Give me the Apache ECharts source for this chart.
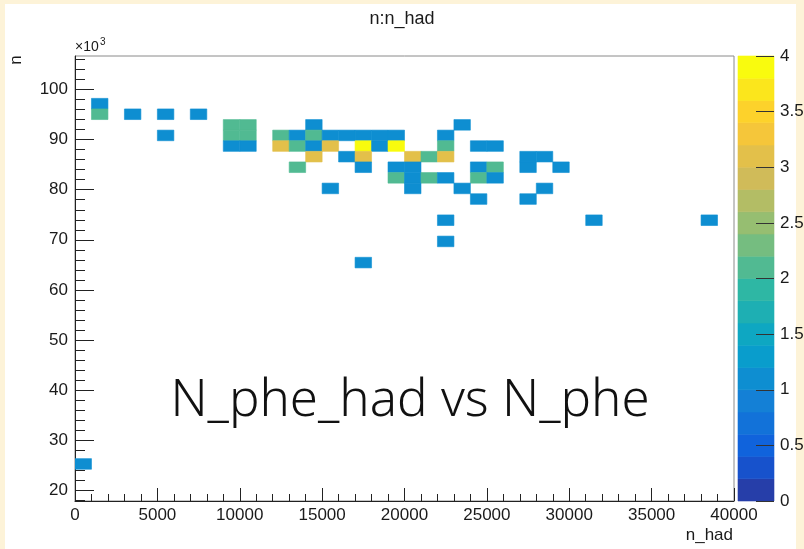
<!DOCTYPE html>
<html>
<head>
<meta charset="utf-8">
<script src="https://cdn.jsdelivr.net/npm/echarts@6/dist/echarts.min.js"></script>
<style>
  html, body { margin: 0; padding: 0; background: #fdf3d8; }
  #paper { position: absolute; left: 5px; top: 4px; width: 791px; height: 545px; background: #ffffff; }
  #chart { position: absolute; left: 0; top: 0; width: 804px; height: 549px; }
</style>
</head>
<body>
<div id="paper"></div>
<div id="chart"></div>
<script>
// Filled cells of the n : n_had histogram (bin centres and entries)
const nHad = [
  1500,
  1500, 3500, 5500, 7500,
  9500, 10500, 14500, 23500,
  5500, 9500, 10500, 12500, 13500, 14500, 15500, 16500, 17500, 18500, 19500, 22500,
  9500, 10500, 12500, 13500, 14500, 15500, 17500, 18500, 19500, 22500, 24500, 25500,
  14500, 16500, 17500, 20500, 21500, 22500, 27500, 28500,
  13500, 17500, 19500, 20500, 24500, 25500, 27500, 29500,
  19500, 20500, 21500, 22500, 24500, 25500,
  15500, 20500, 23500, 28500,
  24500, 27500,
  22500, 31500, 38500,
  22500,
  17500,
  500
];
const nVal = [
  97180,
  95070, 95070, 95070, 95070,
  92950, 92950, 92950, 92950,
  90840, 90840, 90840, 90840, 90840, 90840, 90840, 90840, 90840, 90840, 90840, 90840,
  88720, 88720, 88720, 88720, 88720, 88720, 88720, 88720, 88720, 88720, 88720, 88720,
  86600, 86600, 86600, 86600, 86600, 86600, 86600, 86600,
  84490, 84490, 84490, 84490, 84490, 84490, 84490, 84490,
  82370, 82370, 82370, 82370, 82370, 82370,
  80260, 80260, 80260, 80260,
  78140, 78140,
  73910, 73910, 73910,
  69680,
  65450,
  25250
];
const counts = [
  1,
  2, 1, 1, 1,
  2, 2, 1, 1,
  1, 2, 2, 2, 1, 2, 1, 1, 1, 1, 1, 1,
  1, 1, 3, 2, 1, 3, 4, 1, 4, 2, 1, 1,
  3, 1, 3, 3, 2, 3, 1, 1,
  2, 1, 1, 1, 1, 2, 1, 1,
  2, 1, 2, 1, 2, 1,
  1, 1, 1, 1,
  1, 1,
  1, 1, 1,
  1,
  1,
  1
];

// Axis ticks and colour contours
const xTicks = [0, 5000, 10000, 15000, 20000, 25000, 30000, 35000, 40000];
const yTicks = [20000, 30000, 40000, 50000, 60000, 70000, 80000, 90000, 100000];
const yMinorTicks = [18000, 22000, 24000, 26000, 28000, 32000, 34000, 36000, 38000,
  42000, 44000, 46000, 48000, 52000, 54000, 56000, 58000, 62000, 64000, 66000, 68000,
  72000, 74000, 76000, 78000, 82000, 84000, 86000, 88000, 92000, 94000, 96000, 98000,
  102000, 104000, 106000];
const zLevels = [0, 0.2, 0.4, 0.6, 0.8, 1, 1.2, 1.4, 1.6, 1.8, 2, 2.2, 2.4, 2.6, 2.8,
  3, 3.2, 3.4, 3.6, 3.8, 4];
const zTicks = [0, 0.5, 1, 1.5, 2, 2.5, 3, 3.5, 4];

// Histogram binning
const BIN_W = 1000;
const BIN_H = 2115.5;
const Y_MIN = 17850;
const Y_MAX = 106700;

// "bird" palette
const BIRD_S = [0, 0.125, 0.25, 0.375, 0.5, 0.625, 0.75, 0.875, 1];
const BIRD_R = [0.2082, 0.0592, 0.0780, 0.0232, 0.1802, 0.5301, 0.8186, 0.9956, 0.9764];
const BIRD_G = [0.1664, 0.3599, 0.5041, 0.6419, 0.7178, 0.7492, 0.7328, 0.7862, 0.9832];
const BIRD_B = [0.5293, 0.8684, 0.8385, 0.7914, 0.6425, 0.4662, 0.3499, 0.1968, 0.0539];
function bird(f) {
  f = Math.max(0, Math.min(1, f));
  let i = 0;
  while (i < BIRD_S.length - 2 && f > BIRD_S[i + 1]) i++;
  const t = (f - BIRD_S[i]) / (BIRD_S[i + 1] - BIRD_S[i]);
  const c = a => Math.round(255 * (a[i] + (a[i + 1] - a[i]) * t));
  return 'rgb(' + c(BIRD_R) + ',' + c(BIRD_G) + ',' + c(BIRD_B) + ')';
}
const nLev = zLevels.length - 1;
const pieces = [];
for (let i = 0; i < nLev; i++) {
  const p = { gte: zLevels[i], color: bird((i + 0.99) / nLev) };
  if (i === nLev - 1) p.lte = zLevels[i + 1]; else p.lt = zLevels[i + 1];
  pieces.push(p);
}

const cells = nHad.map((x, i) => [x, nVal[i], counts[i]]);
const bands = [];
for (let i = 0; i < nLev; i++) bands.push([zLevels[i], zLevels[i + 1], (zLevels[i] + zLevels[i + 1]) / 2]);

const FONT = 'Liberation Sans, Arial, Helvetica, sans-serif';
const INK = '#1a1a1a';

const chart = echarts.init(document.getElementById('chart'), null, { renderer: 'canvas' });
chart.setOption({
  backgroundColor: 'transparent',
  animation: false,
  title: {
    text: 'n:n_had', left: 'center', top: 5,
    textStyle: { fontFamily: FONT, fontSize: 18, fontWeight: 'normal', color: INK }
  },
  grid: [
    { left: 75, top: 56, width: 659, height: 445, show: true, borderColor: '#8a8a8a', borderWidth: 1,
      backgroundColor: 'transparent', outerBoundsMode: 'none', containLabel: false },
    { left: 738, top: 56, width: 36, height: 445, show: false, outerBoundsMode: 'none', containLabel: false }
  ],
  xAxis: [
    { type: 'value', gridIndex: 0, min: 0, max: 40000, interval: 5000,
      axisLine: { show: true, onZero: false, lineStyle: { color: '#222', width: 1 } },
      axisTick: { show: true, inside: true, length: 13, lineStyle: { color: '#222' } },
      minorTick: { show: true, splitNumber: 5, length: 7, lineStyle: { color: '#222' } },
      axisLabel: { margin: 6, fontFamily: FONT, fontSize: 17, color: INK,
        customValues: xTicks, formatter: v => String(v) },
      splitLine: { show: false }, minorSplitLine: { show: false } },
    { type: 'value', gridIndex: 1, min: 0, max: 1, show: false }
  ],
  yAxis: [
    { type: 'value', gridIndex: 0, min: Y_MIN, max: Y_MAX, position: 'left',
      axisLine: { show: true, onZero: false, lineStyle: { color: '#222', width: 1 } },
      axisTick: { show: true, inside: true, length: 19, customValues: yTicks, lineStyle: { color: '#222' } },
      axisLabel: { margin: 7, fontFamily: FONT, fontSize: 17, color: INK,
        customValues: yTicks, formatter: v => String(Math.round(v / 1000)) },
      splitLine: { show: false } },
    { type: 'value', gridIndex: 0, min: Y_MIN, max: Y_MAX, position: 'left', offset: 0,
      axisLine: { show: false, onZero: false },
      axisTick: { show: true, inside: true, length: 10, customValues: yMinorTicks, lineStyle: { color: '#222' } },
      axisLabel: { show: false }, splitLine: { show: false } },
    { type: 'value', gridIndex: 1, min: 0, max: 4, position: 'right', z: 6,
      axisLine: { show: false, onZero: false },
      axisTick: { show: true, inside: true, length: 18, customValues: zTicks, lineStyle: { color: '#333' } },
      axisLabel: { margin: 6, fontFamily: FONT, fontSize: 17, color: INK,
        customValues: zTicks, formatter: v => String(v) },
      splitLine: { show: false } }
  ],
  visualMap: {
    type: 'piecewise', show: false, dimension: 2, seriesIndex: [0, 1], pieces: pieces
  },
  series: [
    {
      type: 'custom', name: 'n:n_had', xAxisIndex: 0, yAxisIndex: 0,
      data: cells, encode: { x: 0, y: 1 }, clip: true,
      renderItem: (params, api) => {
        const x = api.value(0), y = api.value(1);
        const a = api.coord([x - BIN_W / 2, y + BIN_H / 2]);
        const b = api.coord([x + BIN_W / 2, y - BIN_H / 2]);
        const col = api.visual('color');
        return { type: 'rect',
          shape: { x: a[0], y: a[1], width: b[0] - a[0], height: b[1] - a[1] },
          style: { fill: col, stroke: col, lineWidth: 0.6 } };
      }
    },
    {
      type: 'custom', name: 'palette', xAxisIndex: 1, yAxisIndex: 2, z: 1,
      data: bands, encode: { y: [0, 1] }, clip: false,
      renderItem: (params, api) => {
        const a = api.coord([0, api.value(1)]);
        const b = api.coord([1, api.value(0)]);
        const col = api.visual('color');
        return { type: 'rect',
          shape: { x: a[0], y: a[1], width: b[0] - a[0], height: b[1] - a[1] },
          style: { fill: col, stroke: col, lineWidth: 0.6 } };
      }
    }
  ],
  graphic: [
    { type: 'text', x: 75, y: 54, z: 10,
      style: { text: '×10', fontFamily: FONT, fontSize: 14, fill: INK, textAlign: 'left', textVerticalAlign: 'bottom' } },
    { type: 'text', x: 100, y: 47, z: 10,
      style: { text: '3', fontFamily: FONT, fontSize: 10, fill: INK, textAlign: 'left', textVerticalAlign: 'bottom' } },
    { type: 'text', x: 16, y: 60, rotation: Math.PI / 2, z: 10,
      style: { text: 'n', fontFamily: FONT, fontSize: 17, fill: INK, textAlign: 'center', textVerticalAlign: 'middle' } },
    { type: 'text', x: 733, y: 535, z: 10,
      style: { text: 'n_had', fontFamily: FONT, fontSize: 17, fill: INK, textAlign: 'right', textVerticalAlign: 'middle' } },
    { type: 'text', x: 410, y: 401, z: 10,
      style: { text: 'N_phe_had vs N_phe', fontFamily: '"Noto Sans", "Open Sans", sans-serif', fontWeight: 300,
        fontSize: 51, fill: '#111', textAlign: 'center', textVerticalAlign: 'middle' } }
  ]
});
</script>
</body>
</html>
